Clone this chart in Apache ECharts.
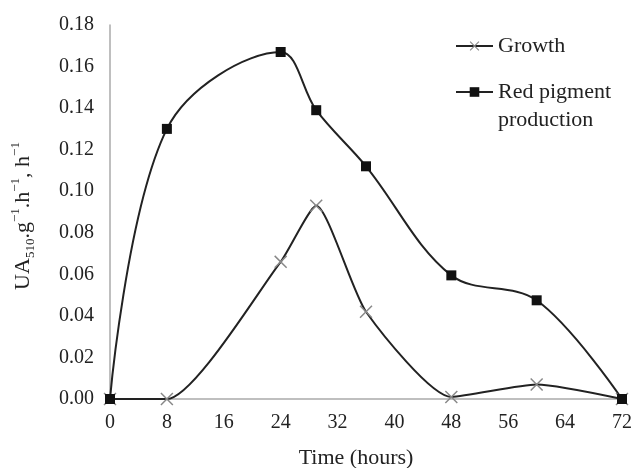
<!DOCTYPE html>
<html>
<head>
<meta charset="utf-8">
<script src="https://cdn.jsdelivr.net/npm/echarts@6/dist/echarts.min.js"></script>
<style>html,body{margin:0;padding:0;background:#fff;}#c{width:632px;height:468px;}</style>
</head>
<body>
<div id="c"></div>
<script>
const timeHours = [0, 8, 24, 29, 36, 48, 60, 72];
const growth = [0, 0, 0.066, 0.093, 0.042, 0.001, 0.007, 0];
const redPigment = [0, 0.13, 0.167, 0.139, 0.112, 0.0595, 0.0475, 0];
const seriesNames = ['Growth', 'Red pigment production'];
const xTitle = 'Time (hours)';

const FONT = 'Liberation Serif';
const chart = echarts.init(document.getElementById('c'));
const xMark = 'path://M0,0.8L0.8,0L10,9.2L9.2,10ZM9.2,0L10,0.8L0.8,10L0,9.2Z';

chart.setOption({
  backgroundColor: '#fff',
  animation: false,
  grid: {left: 110, right: 10, top: 25, bottom: 69, outerBoundsMode: 'none', containLabel: false},
  legend: [
    {
      data: [{name: seriesNames[0]}],
      left: 455, top: 32, padding: 0,
      itemWidth: 37, itemHeight: 12, itemGap: 0,
      textStyle: {fontFamily: FONT, fontSize: 22, color: '#222', lineHeight: 28}
    },
    {
      data: [{name: seriesNames[1]}],
      formatter: () => '\nRed pigment\nproduction',
      left: 455, top: 50, padding: 0,
      itemWidth: 37, itemHeight: 12, itemGap: 0,
      textStyle: {fontFamily: FONT, fontSize: 22, color: '#222', lineHeight: 28}
    }
  ],
  xAxis: {
    type: 'value', min: 0, max: 72, interval: 8,
    name: xTitle, nameLocation: 'middle', nameGap: 48,
    nameTextStyle: {fontFamily: FONT, fontSize: 22, color: '#222', padding: [0, 20, 0, 0]},
    axisLine: {lineStyle: {color: '#aaa', width: 1.5}},
    axisTick: {show: false},
    splitLine: {show: false},
    axisLabel: {fontFamily: FONT, fontSize: 20, color: '#222', margin: 14}
  },
  yAxis: {
    type: 'value', min: 0, max: 0.18, interval: 0.02,
    axisLine: {show: true, lineStyle: {color: '#aaa', width: 1.5}},
    axisTick: {show: false},
    splitLine: {show: false},
    axisLabel: {fontFamily: FONT, fontSize: 20, color: '#222', margin: 16,
      formatter: v => v.toFixed(2)}
  },
  graphic: [{
    type: 'text', x: 23, y: 216, rotation: Math.PI / 2,
    style: {
      text: 'UA{sub|510}.g{sup|−1}.h{sup|−1}, h{sup|−1}',
      fontFamily: FONT, fontSize: 22, fill: '#222',
      align: 'center', verticalAlign: 'middle', lineHeight: 28,
      rich: {
        sub: {fontFamily: FONT, fontSize: 13, fill: '#222', verticalAlign: 'bottom', lineHeight: 28},
        sup: {fontFamily: FONT, fontSize: 13, fill: '#222', verticalAlign: 'top', lineHeight: 28}
      }
    }
  }],
  series: [
    {
      name: seriesNames[0], type: 'line', smooth: 0.2,
      data: timeHours.map((t, i) => [t, growth[i]]),
      symbol: xMark, symbolSize: 13,
      lineStyle: {color: '#222', width: 2},
      itemStyle: {color: '#888'}
    },
    {
      name: seriesNames[1], type: 'line', smooth: 0.35,
      data: timeHours.map((t, i) => [t, redPigment[i]]),
      symbol: 'rect', symbolSize: 10,
      lineStyle: {color: '#222', width: 2},
      itemStyle: {color: '#111'}
    }
  ]
});
</script>
</body>
</html>
